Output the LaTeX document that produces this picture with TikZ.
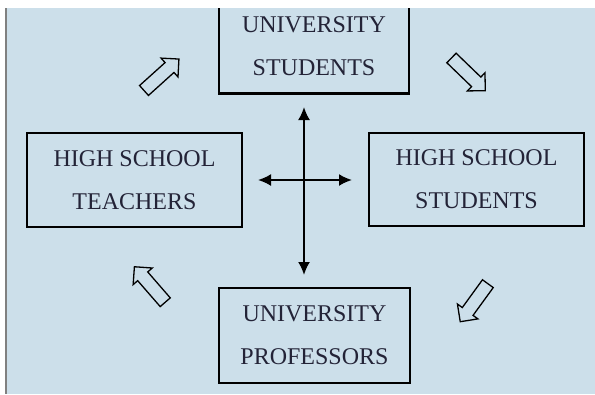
\documentclass[tikz,border=0pt]{standalone}
\usepackage{fontspec}
\setmainfont{Liberation Serif}
\usetikzlibrary{shapes.arrows,arrows.meta}
\definecolor{bgblue}{RGB}{204,223,234}
\definecolor{inkblue}{RGB}{35,35,55}

\begin{document}
\begin{tikzpicture}[x=1pt, y=-1pt,
	box/.style={rectangle, draw, line width=2.6pt, align=center, text=inkblue, font=\fontsize{24}{43}\selectfont},
	turn/.style={single arrow, draw, line width=1.3pt, inner sep=6pt, minimum height=47pt, single arrow head extend=6pt},
	cross/.style={line width=2pt, {Latex[length=13pt,width=12pt]}-{Latex[length=13pt,width=12pt]}}]
	\useasboundingbox (0,0) rectangle (595,394);
	\fill[bgblue] (6,8) rectangle (595,394);
	\draw[gray, line width=1.5pt] (6,8) -- (6,394);
	\clip (7,8) rectangle (595,394);
	% the four groups
	\node[box, minimum width=190pt, minimum height=95pt](US) at (314,46) {UNIVERSITY\\STUDENTS};
	\node[box, minimum width=215pt, minimum height=94pt](HT) at (134.5,180) {HIGH SCHOOL\\TEACHERS};
	\node[box, minimum width=215pt, minimum height=93pt](HS) at (476.5,179.5) {HIGH SCHOOL\\STUDENTS};
	\node[box, minimum width=191pt, minimum height=95pt](UP) at (314.5,335.5) {UNIVERSITY\\PROFESSORS};
	% the cycle
	\node[turn, rotate=42](A1) at (159,77) {};
	\node[turn, rotate=-44](A2) at (466,72) {};
	\node[turn, rotate=-126](A3) at (476,300) {};
	\node[turn, rotate=131](A4) at (152,287) {};
	% the cross
	\coordinate(N) at (304,107);
	\coordinate(S) at (304,275);
	\coordinate(W) at (258,180);
	\coordinate(E) at (352,180);
	\draw[cross](N) -- (S);
	\draw[cross](W) -- (E);
\end{tikzpicture}
\end{document}
